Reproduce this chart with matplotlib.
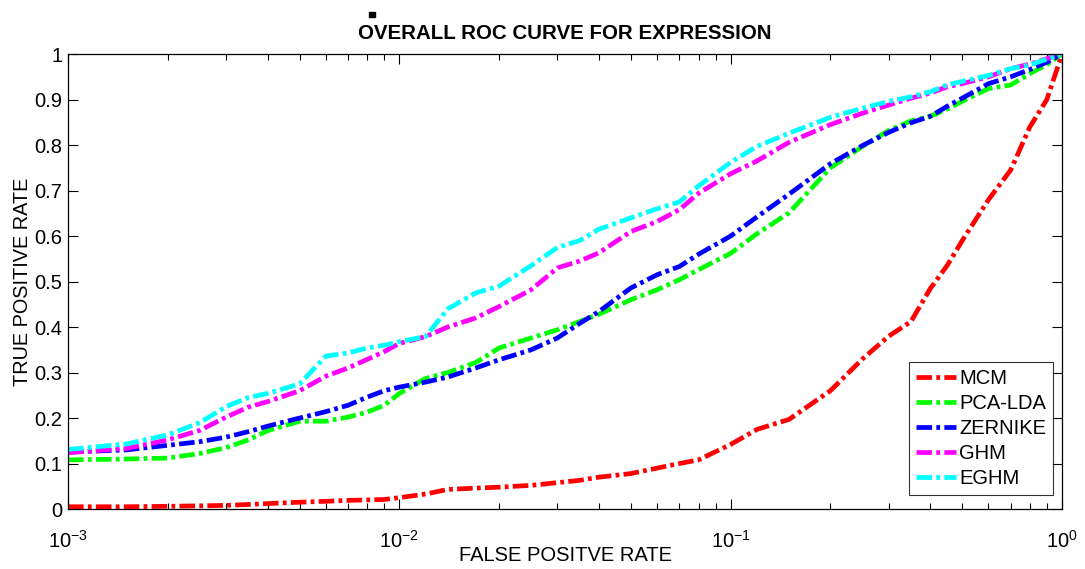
import numpy as np
import matplotlib
matplotlib.use('Agg')
import matplotlib.pyplot as plt
from matplotlib.ticker import FuncFormatter, LogLocator, NullFormatter
from matplotlib.patches import Rectangle

plt.rcParams['font.family'] = ['Liberation Sans', 'DejaVu Sans']
plt.rcParams['mathtext.fontset'] = 'custom'
plt.rcParams['mathtext.rm'] = 'Liberation Sans'
plt.rcParams['mathtext.it'] = 'Liberation Sans'

# Dane (FPR wspolne dla wszystkich krzywych)
fpr = [0.001, 0.0015, 0.002, 0.0025, 0.003, 0.0035, 0.004, 0.005, 0.006, 0.007,
       0.008, 0.009, 0.01, 0.012, 0.014, 0.017, 0.02, 0.025, 0.03, 0.035,
       0.04, 0.05, 0.06, 0.07, 0.08, 0.1, 0.12, 0.15, 0.2, 0.25,
       0.3, 0.35, 0.4, 0.45, 0.5, 0.6, 0.7, 0.8, 0.9, 1.0]

tpr_mcm = [0.005, 0.005, 0.006, 0.007, 0.008, 0.01, 0.012, 0.015, 0.017, 0.019,
           0.02, 0.021, 0.025, 0.033, 0.043, 0.046, 0.048, 0.052, 0.058, 0.063,
           0.07, 0.078, 0.09, 0.1, 0.108, 0.142, 0.175, 0.197, 0.26, 0.33,
           0.38, 0.412, 0.484, 0.535, 0.59, 0.68, 0.745, 0.84, 0.9, 1.0]

tpr_pca = [0.108, 0.11, 0.112, 0.122, 0.135, 0.152, 0.172, 0.193, 0.193, 0.202,
           0.213, 0.228, 0.254, 0.287, 0.3, 0.322, 0.354, 0.376, 0.394, 0.412,
           0.428, 0.46, 0.482, 0.504, 0.526, 0.562, 0.605, 0.651, 0.75, 0.797,
           0.832, 0.853, 0.863, 0.879, 0.896, 0.924, 0.932, 0.957, 0.977, 1.0]

tpr_zernike = [0.125, 0.13, 0.14, 0.148, 0.158, 0.17, 0.182, 0.2, 0.214, 0.228,
               0.246, 0.26, 0.268, 0.279, 0.29, 0.31, 0.328, 0.35, 0.376, 0.408,
               0.434, 0.486, 0.515, 0.533, 0.56, 0.6, 0.642, 0.692, 0.759, 0.799,
               0.828, 0.849, 0.863, 0.885, 0.903, 0.935, 0.95, 0.966, 0.982, 1.0]

tpr_ghm = [0.124, 0.133, 0.152, 0.173, 0.202, 0.224, 0.236, 0.26, 0.292, 0.31,
           0.329, 0.346, 0.364, 0.379, 0.4, 0.42, 0.445, 0.482, 0.53, 0.545,
           0.563, 0.61, 0.632, 0.658, 0.694, 0.737, 0.765, 0.806, 0.845, 0.87,
           0.888, 0.903, 0.914, 0.928, 0.935, 0.95, 0.968, 0.978, 0.99, 1.0]

tpr_eghm = [0.131, 0.143, 0.163, 0.19, 0.225, 0.245, 0.254, 0.275, 0.336, 0.343,
            0.354, 0.36, 0.368, 0.379, 0.44, 0.475, 0.49, 0.535, 0.575, 0.59,
            0.615, 0.64, 0.66, 0.675, 0.71, 0.762, 0.797, 0.826, 0.861, 0.881,
            0.896, 0.906, 0.917, 0.932, 0.94, 0.953, 0.968, 0.976, 0.989, 1.0]

labels = ['MCM', 'PCA-LDA', 'ZERNIKE', 'GHM', 'EGHM']
colors = ['#ff0000', '#00ff00', '#0000ff', '#ff00ff', '#00ffff']
curves = [tpr_mcm, tpr_pca, tpr_zernike, tpr_ghm, tpr_eghm]

fig = plt.figure(figsize=(10.85, 5.69), dpi=100)
ax = fig.add_axes([0.0627, 0.1054, 0.9161, 0.7996])

for y, c, lab in zip(curves, colors, labels):
    ax.plot(fpr, y, color=c, lw=3.4, linestyle=(0, (3.3, 0.9, 0.8, 0.9)), label=lab)

ax.set_xscale('log')
ax.set_xlim(1e-3, 1)
ax.set_ylim(0, 1)
ax.set_yticks(np.arange(0, 1.01, 0.1))
ax.yaxis.set_major_formatter(FuncFormatter(lambda v, p: '%g' % round(v, 1)))
ax.xaxis.set_minor_locator(LogLocator(base=10, subs=np.arange(2, 10), numticks=20))
ax.xaxis.set_minor_formatter(NullFormatter())

ax.tick_params(which='both', direction='in', top=True, right=True, labelsize=14.5)
ax.tick_params(which='major', length=7, width=0.8)
ax.tick_params(which='minor', length=4, width=0.8)
ax.tick_params(axis='x', pad=15)
ax.tick_params(axis='y', pad=4)
for s in ax.spines.values():
    s.set_linewidth(0.9)

ax.set_title('OVERALL ROC CURVE FOR EXPRESSION', fontsize=14.8, fontweight='bold', pad=11)
ax.set_xlabel('FALSE POSITVE RATE', fontsize=14.5, labelpad=-4)
ax.set_ylabel('TRUE POSITIVE RATE', fontsize=14.3, labelpad=2)

leg = ax.legend(loc='lower right', bbox_to_anchor=(0.991, 0.031), borderaxespad=0,
                fontsize=14.5, frameon=True, fancybox=False, edgecolor='black',
                handlelength=2.0, labelspacing=0.3, handletextpad=0.15,
                borderpad=0.35)
leg.get_frame().set_linewidth(0.8)

# maly czarny kwadrat nad tytulem
fig.patches.append(Rectangle((0.3405, 0.97), 0.0055, 0.009, transform=fig.transFigure,
                             color='black', zorder=5))

plt.savefig('out.png', dpi=100)
